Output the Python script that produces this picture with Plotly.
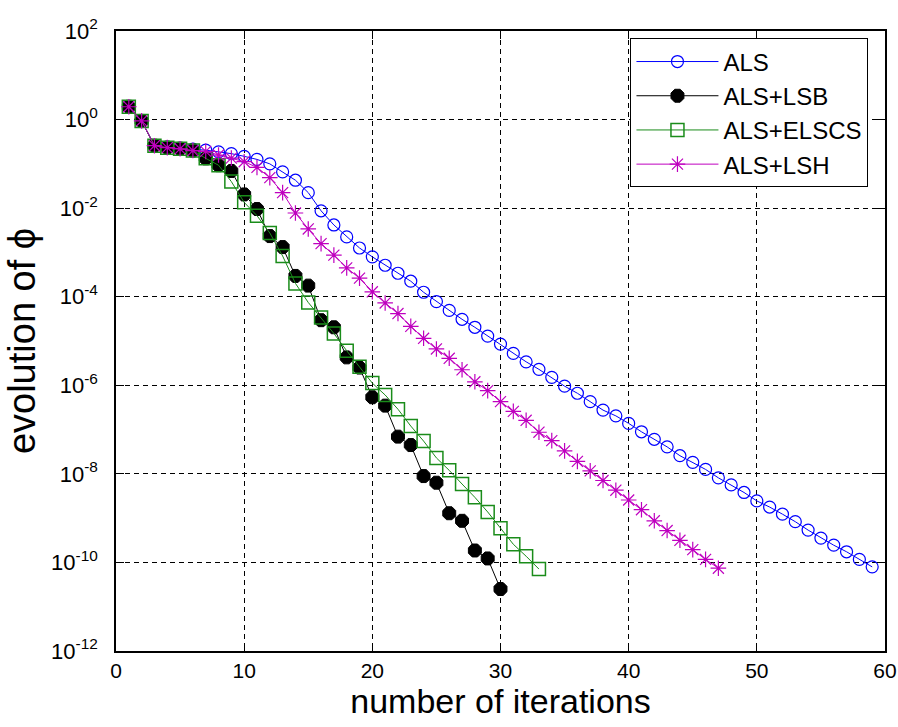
import plotly.graph_objects as go

# iteration counts
it_als = list(range(1, 60))
it_lsb = list(range(1, 31))
it_elscs = list(range(1, 34))
it_lsh = list(range(1, 48))

# evolution of phi
phi_als = [1.95, 0.933, 0.257, 0.240, 0.226, 0.214, 0.204, 0.186, 0.170, 0.148,
           0.126, 0.100, 6.61e-2, 4.27e-2, 2.24e-2, 8.71e-3, 4.17e-3, 2.24e-3, 1.26e-3, 7.94e-4,
           5.13e-4, 3.39e-4, 2.24e-4, 1.26e-4, 7.76e-5, 4.90e-5, 3.09e-5, 2.04e-5, 1.29e-5, 8.51e-6,
           5.25e-6, 3.39e-6, 2.29e-6, 1.51e-6, 9.55e-7, 6.61e-7, 4.27e-7, 2.75e-7, 2.04e-7, 1.38e-7,
           8.91e-8, 6.03e-8, 4.07e-8, 2.57e-8, 1.82e-8, 1.26e-8, 8.13e-9, 5.62e-9, 3.80e-9, 2.45e-9,
           1.78e-9, 1.23e-9, 8.32e-10, 5.37e-10, 3.55e-10, 2.45e-10, 1.74e-10, 1.17e-10, 7.94e-11]

phi_lsb = [1.95, 0.933, 0.257, 0.232, 0.219, 0.200, 0.133, 9.33e-2, 6.92e-2, 2.04e-2,
           9.55e-3, 2.34e-3, 1.32e-3, 2.95e-4, 1.78e-4, 2.95e-5, 2.04e-5, 4.27e-6, 2.51e-6, 5.37e-7,
           3.47e-7, 6.92e-8, 4.47e-8, 8.91e-9, 6.31e-9, 1.29e-9, 8.71e-10, 1.86e-10, 1.23e-10, 2.51e-11]

phi_elscs = [1.95, 0.933, 0.257, 0.232, 0.219, 0.200, 0.133, 9.33e-2, 3.98e-2, 1.35e-2,
             6.76e-3, 2.75e-3, 8.32e-4, 2.00e-4, 7.41e-5, 3.39e-5, 1.48e-5, 6.03e-6, 2.63e-6, 1.12e-6,
             6.03e-7, 2.88e-7, 1.20e-7, 5.50e-8, 2.29e-8, 1.20e-8, 5.89e-9, 2.95e-9, 1.38e-9, 5.89e-10,
             2.57e-10, 1.38e-10, 7.08e-11]

phi_lsh = [1.95, 0.933, 0.257, 0.232, 0.219, 0.200, 0.191, 0.158, 0.135, 0.112,
           8.32e-2, 4.90e-2, 2.24e-2, 7.76e-3, 3.39e-3, 1.58e-3, 8.71e-4, 4.47e-4, 2.63e-4, 1.29e-4,
           7.24e-5, 4.17e-5, 2.14e-5, 1.15e-5, 6.61e-6, 4.07e-6, 2.24e-6, 1.20e-6, 7.59e-7, 4.27e-7,
           2.57e-7, 1.62e-7, 8.71e-8, 5.62e-8, 3.31e-8, 1.91e-8, 1.17e-8, 7.08e-9, 4.27e-9, 2.57e-9,
           1.55e-9, 8.71e-10, 5.25e-10, 3.16e-10, 1.95e-10, 1.17e-10, 7.41e-11]

series_names = ["ALS", "ALS+LSB", "ALS+ELSCS", "ALS+LSH"]
y_tick_exponents = [2, 0, -2, -4, -6, -8, -10, -12]
x_tick_values = [0, 10, 20, 30, 40, 50, 60]

FONT = "Liberation Sans, Arial, sans-serif"

fig = go.Figure()

fig.add_trace(go.Scatter(
    x=it_als, y=phi_als, name=series_names[0], mode="lines+markers",
    line=dict(color="#0000ff", width=1),
    marker=dict(symbol="circle-open", size=12, color="#0000ff", line=dict(width=1.2, color="#0000ff")),
))
fig.add_trace(go.Scatter(
    x=it_lsb, y=phi_lsb, name=series_names[1], mode="lines+markers",
    line=dict(color="#000000", width=1),
    marker=dict(symbol="octagon", size=14, color="#000000", line=dict(width=1, color="#000000")),
))
fig.add_trace(go.Scatter(
    x=it_elscs, y=phi_elscs, name=series_names[2], mode="lines+markers",
    line=dict(color="#1a8c1a", width=1),
    marker=dict(symbol="square-open", size=13, color="#1a8c1a", line=dict(width=1.5, color="#1a8c1a")),
))
fig.add_trace(go.Scatter(
    x=it_lsh, y=phi_lsh, name=series_names[3], mode="lines+markers",
    line=dict(color="#bf00bf", width=1),
    marker=dict(symbol="asterisk-open", size=13, color="#bf00bf", line=dict(width=1.2, color="#bf00bf")),
))

fig.update_layout(
    width=898, height=727,
    margin=dict(l=116, r=13, t=31, b=76, autoexpand=False),
    paper_bgcolor="white", plot_bgcolor="white",
    font=dict(family=FONT, size=20, color="black"),
    showlegend=True,
    legend=dict(
        x=0.669, y=0.988, xanchor="left", yanchor="top",
        bgcolor="white", bordercolor="black", borderwidth=1,
        font=dict(family=FONT, size=24, color="black"),
        itemwidth=82,
        tracegroupgap=0,
    ),
)

fig.update_xaxes(
    range=[0, 60], tickvals=x_tick_values,
    ticks="inside", ticklen=8, tickwidth=1, tickcolor="black",
    showline=True, linecolor="black", linewidth=1.5, mirror="ticks",
    showgrid=True, gridcolor="black", gridwidth=1, griddash="5px,4px",
    zeroline=False,
    automargin=False,
    ticklabeloverflow="allow",
    tickfont=dict(family=FONT, size=21, color="black"),
    title=dict(text="number of iterations", font=dict(family=FONT, size=34, color="black"), standoff=8),
)

fig.update_yaxes(
    type="log", range=[-12, 2],
    tickvals=[10.0 ** e for e in y_tick_exponents],
    ticktext=["10<sup>%d</sup>" % e for e in y_tick_exponents],
    ticks="inside", ticklen=8, tickwidth=1, tickcolor="black",
    showline=True, linecolor="black", linewidth=1.5, mirror="ticks",
    showgrid=True, gridcolor="black", gridwidth=1, griddash="5px,4px",
    zeroline=False,
    automargin=False,
    ticklabelstandoff=12,
    tickfont=dict(family=FONT, size=22, color="black"),
    title=dict(text="evolution of \u03d5", font=dict(family=FONT, size=38, color="black"), standoff=4),
)

# remove the default 8px page margin so the 898x727 figure fills the window exactly
fig.write_html(
    "out.html",
    config={"displayModeBar": False},
    post_script="document.body.style.margin='0px';",
)
